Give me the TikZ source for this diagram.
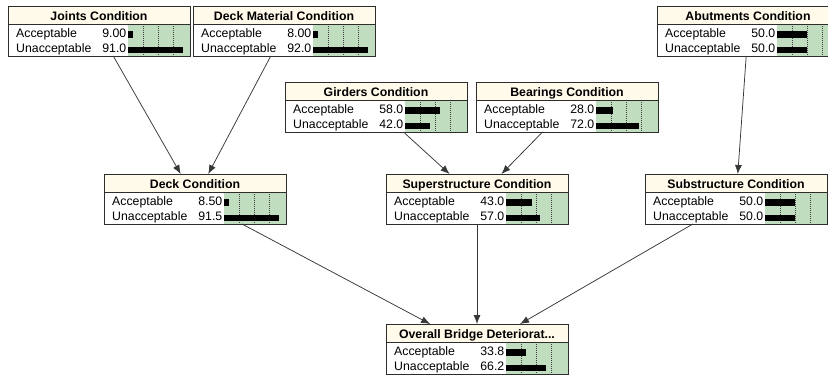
\documentclass[tikz,border=0pt]{standalone}
\usepackage{fontspec}
\setmainfont{Liberation Sans}
\usetikzlibrary{arrows.meta}

\definecolor{titlebg}{RGB}{255,250,234}
\definecolor{barbg}{RGB}{192,221,192}
\definecolor{framecol}{RGB}{45,45,45}
\definecolor{linkcol}{RGB}{55,55,55}

\tikzset{
  netbox/.style={draw=framecol, line width=0.9pt, minimum width=182pt,
    minimum height=50pt, inner sep=0pt, outer sep=0pt},
  link/.style={draw=linkcol, line width=0.75pt,
    -{Latex[length=9pt,width=7pt]}},
  lbl/.style={inner sep=0pt, font=\fontsize{12.3}{14}\selectfont},
  ttl/.style={inner sep=0pt, font=\fontsize{12.3}{14}\selectfont\bfseries},
  gridln/.style={draw=black!75, line width=0.6pt, dash pattern=on 1pt off 1pt},
}

% belief box: name, left, top, title, P(Acceptable), P(Unacceptable)
\newcommand\beliefbox[6]{%
  \begin{scope}[shift={(#2,#3)}]
    \fill[white] (0,18) rectangle (120,50);
    \fill[titlebg] (0,0) rectangle (182,18);
    \fill[barbg] (120,18) rectangle (182,50);
    \foreach \k in {15,30,45}
      \draw[gridln] (120+\k,18) -- (120+\k,50);
    \fill[black] (120,25) rectangle ++({0.6*#5},6.5);
    \fill[black] (120,40.5) rectangle ++({0.6*#6},6.5);
    \draw[framecol, line width=0.9pt] (0,18) -- (182,18);
    \node[ttl, anchor=base] at (91,14) {#4};
    \node[lbl, anchor=base west] at (8,31) {Acceptable};
    \node[lbl, anchor=base east] at (118.5,31) {#5};
    \node[lbl, anchor=base west] at (8,46.5) {Unacceptable};
    \node[lbl, anchor=base east] at (118.5,46.5) {#6};
  \end{scope}
  \node[netbox] (#1) at ({#2+91},{#3+25}) {};
}

\begin{document}
\begin{tikzpicture}[x=1pt, y=-1pt]
  \useasboundingbox (0,0) rectangle (828,376);
  \clip (0,0) rectangle (828,376);
  \fill[white] (0,0) rectangle (828,376);

  % top row
  \beliefbox{joints}{8}{6}{Joints Condition}{9.00}{91.0}
  \beliefbox{deckmat}{193}{6}{Deck Material Condition}{8.00}{92.0}
  \beliefbox{abut}{657}{6}{Abutments Condition}{50.0}{50.0}
  % second row
  \beliefbox{girders}{285}{82}{Girders Condition}{58.0}{42.0}
  \beliefbox{bearings}{476}{82}{Bearings Condition}{28.0}{72.0}
  % third row
  \beliefbox{deck}{104}{174}{Deck Condition}{8.50}{91.5}
  \beliefbox{super}{386}{174}{Superstructure Condition}{43.0}{57.0}
  \beliefbox{sub}{645}{174}{Substructure Condition}{50.0}{50.0}
  % result
  \beliefbox{overall}{386}{324}{Overall Bridge Deteriorat...}{33.8}{66.2}

  % dependencies
  \draw[link] (joints) -- (deck);
  \draw[link] (deckmat) -- (deck);
  \draw[link] (girders) -- (super);
  \draw[link] (bearings) -- (super);
  \draw[link] (abut) -- (sub);
  \draw[link] (deck) -- (overall);
  \draw[link] (super) -- (overall);
  \draw[link] (sub) -- (overall);
\end{tikzpicture}
\end{document}
